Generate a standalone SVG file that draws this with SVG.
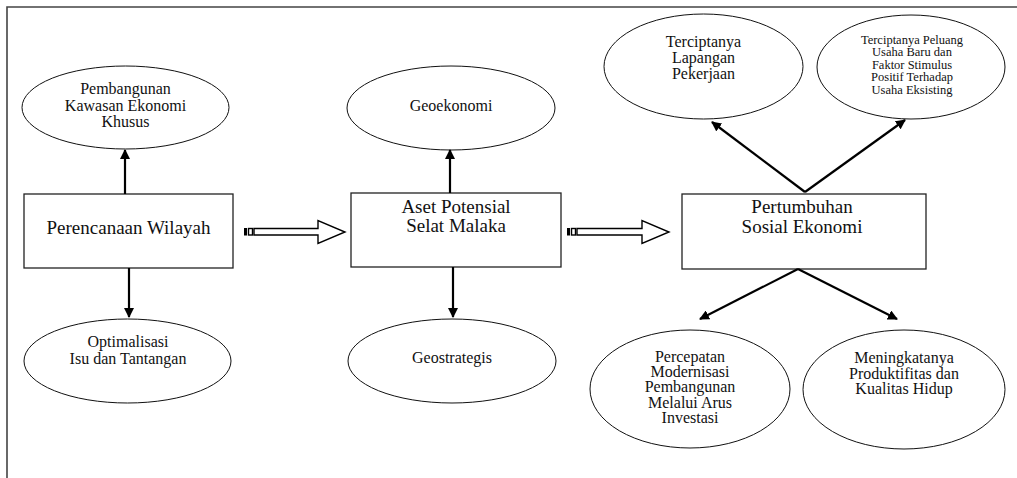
<svg xmlns="http://www.w3.org/2000/svg" width="1017" height="478" viewBox="0 0 1017 478">
<style>
.bg{fill:#ffffff}
.frame{fill:none;stroke:#444;stroke-width:1.6}
.box{fill:#fff;stroke:#222;stroke-width:1.3}
.ell{fill:#fff;stroke:#111;stroke-width:1}
.t{font-family:"Liberation Serif","Times New Roman",serif;fill:#111;text-anchor:middle}
.tb{font-size:19px}
.te{font-size:16px}
.ts{font-size:12.5px}
.conn line{stroke:#000;stroke-width:2.2;marker-end:url(#ah)}
.blk{fill:#fff;stroke:#000;stroke-width:1.4;stroke-linejoin:miter}
</style>
<defs>
<marker id="ah" viewBox="0 0 10 10" refX="9" refY="5" markerUnits="userSpaceOnUse" markerWidth="10" markerHeight="10" orient="auto">
<path d="M0,0 L10,5 L0,10 z" fill="#000"/>
</marker>
</defs>
<rect class="bg" x="0" y="0" width="1017" height="478"/>
<path class="frame" d="M7,478 V7 H1017"/>

<g id="ell-kek">
<ellipse class="ell" cx="125.5" cy="107.5" rx="103.5" ry="41.5"/>
<text class="t te" x="125.5" y="94">Pembangunan</text>
<text class="t te" x="125.5" y="111">Kawasan Ekonomi</text>
<text class="t te" x="125.5" y="127">Khusus</text>
</g>
<g id="box-perencanaan">
<rect class="box" x="24" y="194" width="209" height="74"/>
<text class="t tb" x="128.5" y="234">Perencanaan Wilayah</text>
</g>
<g id="ell-optimalisasi">
<ellipse class="ell" cx="127.5" cy="361" rx="103.5" ry="42"/>
<text class="t te" x="128" y="347">Optimalisasi</text>
<text class="t te" x="128" y="364">Isu dan Tantangan</text>
</g>

<g id="ell-geoekonomi">
<ellipse class="ell" cx="451" cy="108" rx="104" ry="42"/>
<text class="t te" x="451" y="111">Geoekonomi</text>
</g>
<g id="box-aset">
<rect class="box" x="351" y="193" width="210" height="74"/>
<text class="t tb" x="456" y="213">Aset Potensial</text>
<text class="t tb" x="456" y="232">Selat Malaka</text>
</g>
<g id="ell-geostrategis">
<ellipse class="ell" cx="452" cy="361" rx="104" ry="42"/>
<text class="t te" x="452" y="363">Geostrategis</text>
</g>

<g id="ell-lapangan">
<ellipse class="ell" cx="703.5" cy="66.5" rx="99.5" ry="52.5"/>
<text class="t te" x="703.5" y="47">Terciptanya</text>
<text class="t te" x="703.5" y="63">Lapangan</text>
<text class="t te" x="703.5" y="79">Pekerjaan</text>
</g>
<g id="ell-peluang">
<ellipse class="ell" cx="911" cy="67" rx="94" ry="52"/>
<text class="t ts" x="912" y="44">Terciptanya Peluang</text>
<text class="t ts" x="912" y="56">Usaha Baru dan</text>
<text class="t ts" x="912" y="68.5">Faktor Stimulus</text>
<text class="t ts" x="912" y="81">Positif Terhadap</text>
<text class="t ts" x="912" y="93.5">Usaha Eksisting</text>
</g>
<g id="box-pertumbuhan">
<rect class="box" x="682" y="194" width="244" height="75"/>
<text class="t tb" x="802" y="213">Pertumbuhan</text>
<text class="t tb" x="802" y="233">Sosial Ekonomi</text>
</g>
<g id="ell-percepatan">
<ellipse class="ell" cx="690" cy="389" rx="100" ry="59"/>
<text class="t te" x="690" y="362">Percepatan</text>
<text class="t te" x="690" y="377">Modernisasi</text>
<text class="t te" x="690" y="392">Pembangunan</text>
<text class="t te" x="690" y="407.5">Melalui Arus</text>
<text class="t te" x="690" y="423">Investasi</text>
</g>
<g id="ell-meningkatnya">
<ellipse class="ell" cx="904" cy="389.5" rx="101" ry="59.5"/>
<text class="t te" x="904" y="363">Meningkatanya</text>
<text class="t te" x="904" y="378.5">Produktifitas dan</text>
<text class="t te" x="904" y="394">Kualitas Hidup</text>
</g>

<g id="connectors">
<g class="conn">
<line x1="125" y1="194" x2="125" y2="150"/>
<line x1="129" y1="268" x2="129" y2="317"/>
<line x1="450" y1="193" x2="450" y2="150"/>
<line x1="453" y1="267" x2="453" y2="317"/>
<line x1="805" y1="192" x2="712" y2="122"/>
<line x1="805" y1="192" x2="905" y2="120"/>
<line x1="798" y1="269" x2="700" y2="319"/>
<line x1="798" y1="269" x2="897" y2="319"/>
</g>
<g id="block-arrow-1">
<rect x="244" y="228" width="3" height="7.5" fill="#000"/>
<rect class="blk" x="248.5" y="228.5" width="4" height="6.5"/>
<path class="blk" d="M254,228.5 H318 V220.5 L345,232 L318,243.5 V235 H254 Z"/>
</g>
<g id="block-arrow-2">
<rect x="567" y="228" width="3" height="7.5" fill="#000"/>
<rect class="blk" x="571.5" y="228.5" width="4" height="6.5"/>
<path class="blk" d="M577,228.5 H642 V220.5 L669,232 L642,243.5 V235 H577 Z"/>
</g>
</g>
</svg>
